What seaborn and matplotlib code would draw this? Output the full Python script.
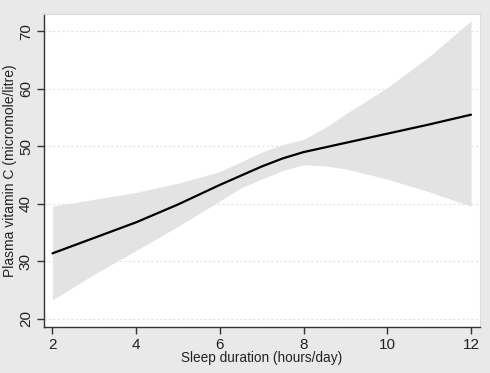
import numpy as np
import pandas as pd
import matplotlib
matplotlib.use("Agg")
import matplotlib.pyplot as plt
import seaborn as sns

# Data
sleep_hours = [2, 3, 4, 5, 6, 6.5, 7, 7.5, 8, 8.5, 9, 10, 11, 12]
vitamin_c = [31.4, 34.1, 36.8, 39.9, 43.3, 44.9, 46.5, 47.9, 49.0, 49.8, 50.6, 52.2, 53.8, 55.5]
ci_upper = [39.6, 40.8, 42.0, 43.6, 45.6, 47.3, 49.0, 50.3, 51.2, 53.2, 55.6, 60.2, 65.6, 71.8]
ci_lower = [23.3, 27.8, 31.9, 36.1, 40.5, 42.8, 44.3, 45.8, 46.8, 46.6, 46.1, 44.3, 42.1, 39.6]
x_ticks = [2, 4, 6, 8, 10, 12]
y_ticks = [20, 30, 40, 50, 60, 70]

df = pd.DataFrame({"sleep": sleep_hours, "vitc": vitamin_c,
                   "lo": ci_lower, "hi": ci_upper})

sns.set_theme(style="white")
plt.rcParams["font.family"] = ["Liberation Sans", "DejaVu Sans"]

fig = plt.figure(figsize=(4.9, 3.73), dpi=100)
fig.patch.set_facecolor("#e9e9e9")
ax = fig.add_axes([44/490, 1 - 327/373, (480 - 44)/490, (327 - 14)/373])
ax.set_facecolor("white")

ax.fill_between(df["sleep"], df["lo"], df["hi"], color="#e3e3e3", linewidth=0, zorder=1)
sns.lineplot(data=df, x="sleep", y="vitc", color="black", linewidth=1.6, ax=ax, zorder=3)

ax.set_xlim(1.797, 12.215)
ax.set_ylim(18.6, 73.0)
ax.set_xticks(x_ticks)
ax.set_yticks(y_ticks)
ax.set_yticklabels([str(v) for v in y_ticks], rotation=90, va="center")
ax.yaxis.grid(True, color="#dde5ea", linestyle=(0, (2, 2)), linewidth=0.8)
ax.set_axisbelow(True)

for s in ["left", "bottom"]:
    ax.spines[s].set_color("#333333")
    ax.spines[s].set_linewidth(1.0)
for s in ["top", "right"]:
    ax.spines[s].set_color("#dcdcdc")
    ax.spines[s].set_linewidth(0.8)

ax.tick_params(axis="both", which="major", direction="out", length=5, width=1,
               color="#333333", labelsize=11, labelcolor="#222222", pad=3,
               left=True, bottom=True)

ax.set_xlabel("Sleep duration (hours/day)", fontsize=9.8, color="#222222", labelpad=-1)
ax.set_ylabel("Plasma vitamin C (micromole/litre)", fontsize=10, color="#222222", labelpad=1)

fig.savefig("out.png", dpi=100, facecolor=fig.get_facecolor())
